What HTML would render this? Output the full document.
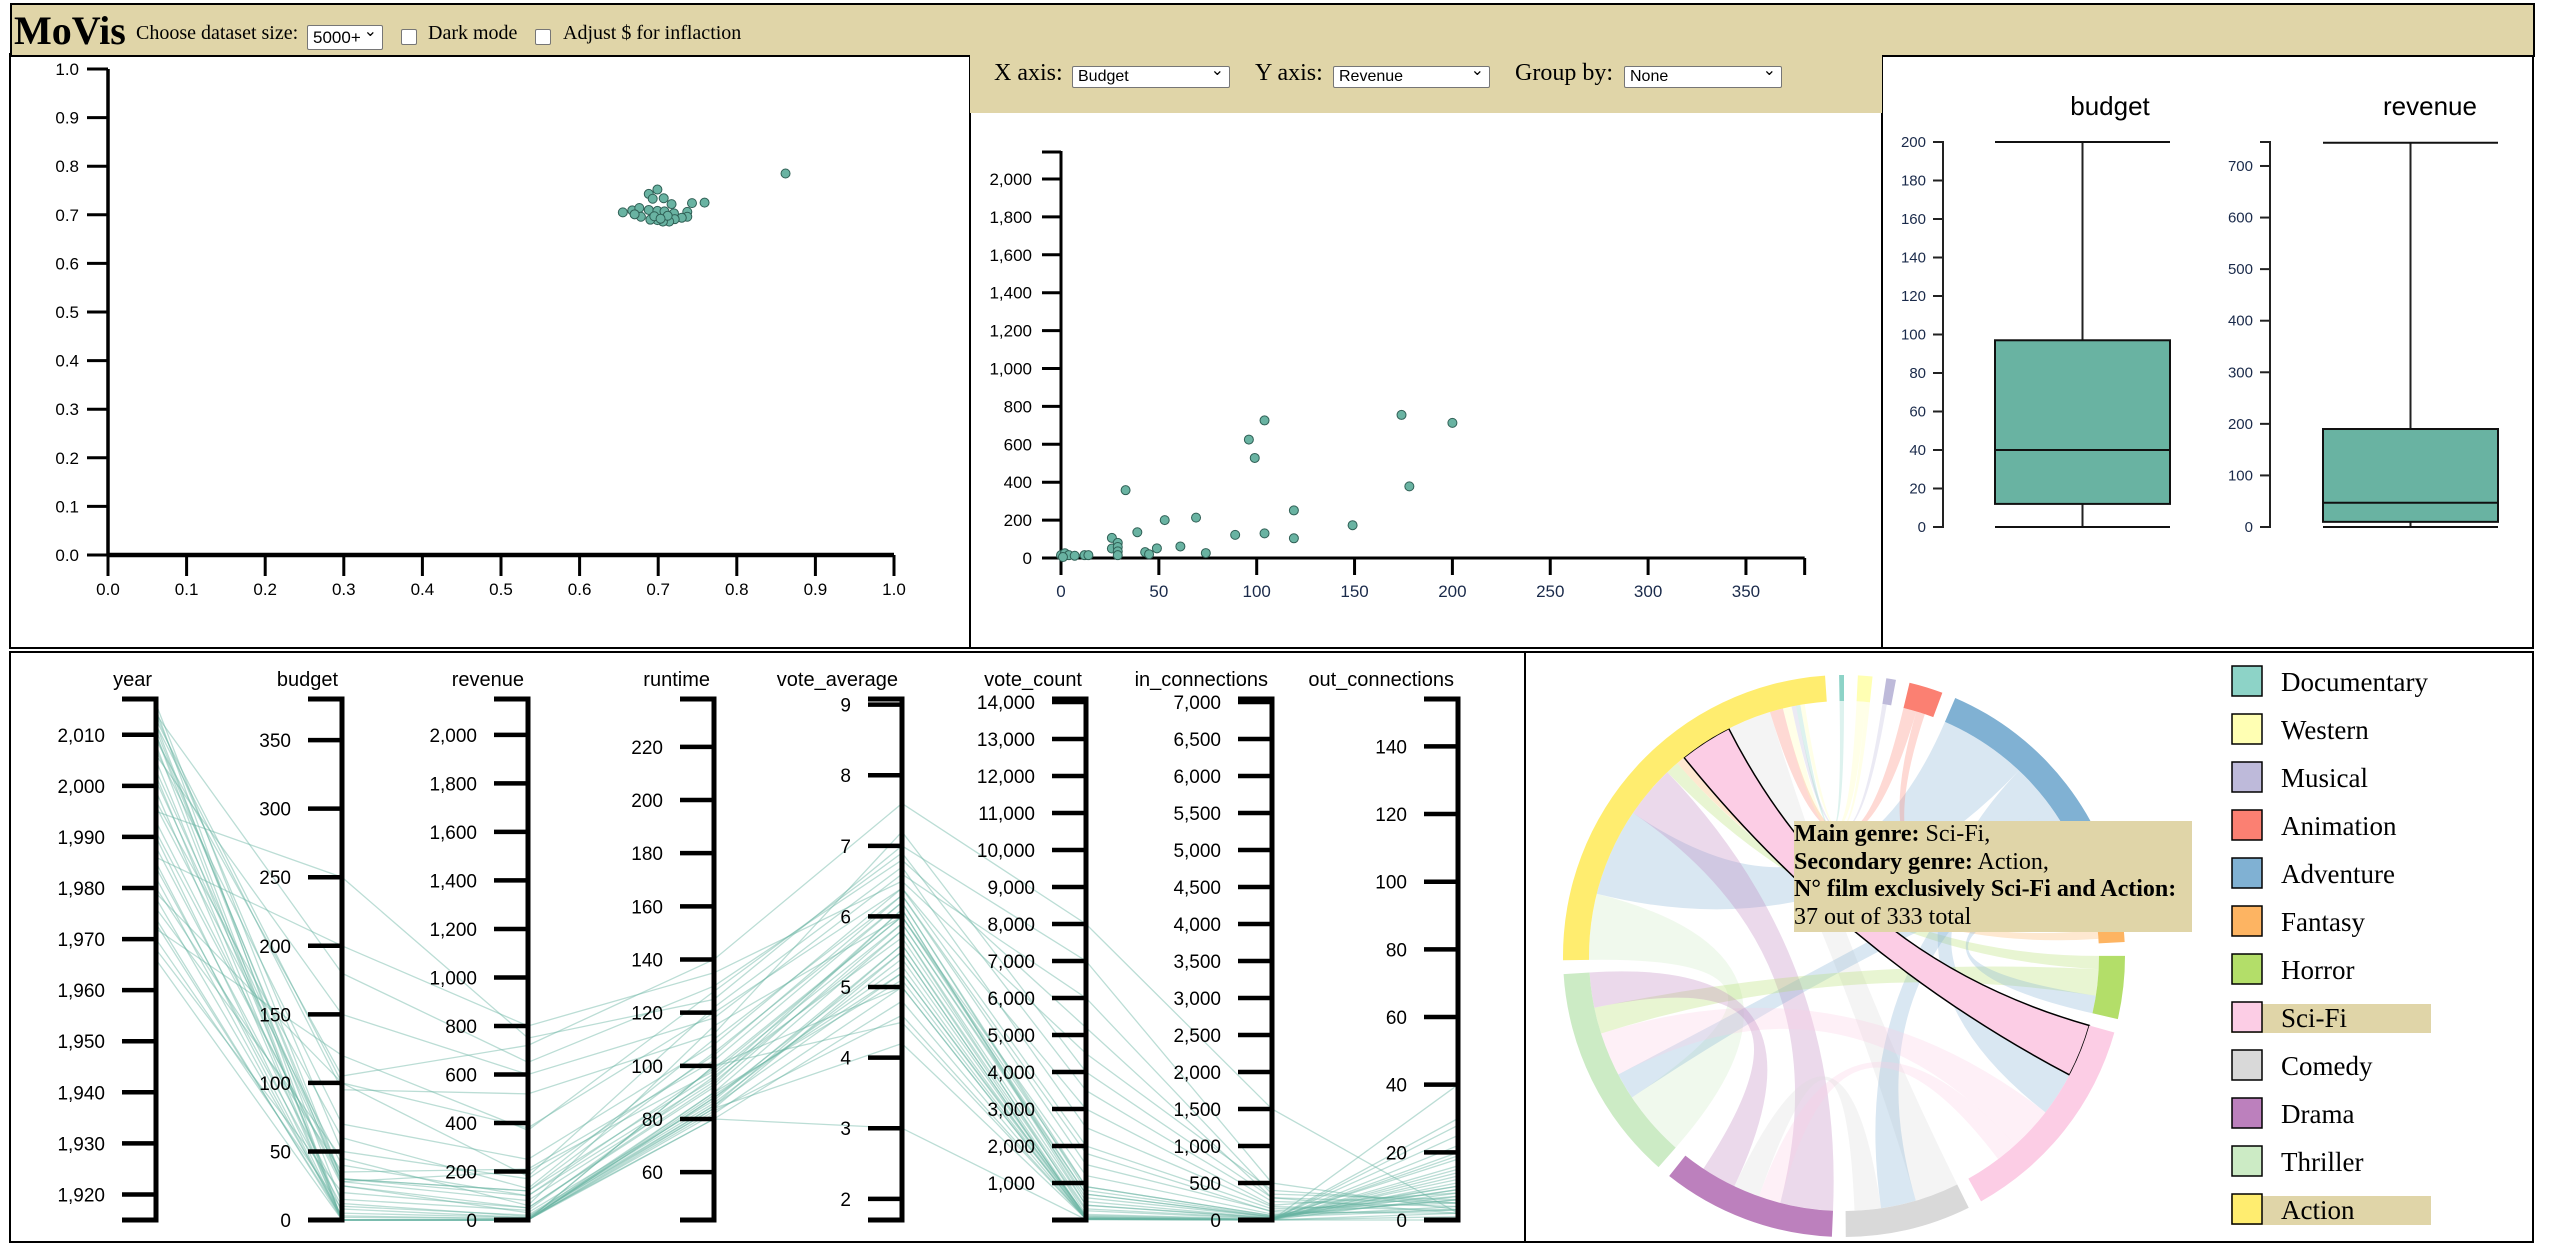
<!DOCTYPE html>
<html><head><meta charset="utf-8"><title>MoVis</title>
<style>
html,body{margin:0;padding:0;background:#fff;width:2560px;height:1255px;overflow:hidden;position:relative;font-family:"Liberation Serif",serif;}
#header{position:absolute;left:10px;top:3px;width:2521px;height:50px;background:#e0d5a8;border:2px solid #000;}
#title{position:absolute;left:2px;top:2px;font-size:40px;font-weight:bold;color:#000;}
.lbl{position:absolute;font-size:20px;color:#000;white-space:nowrap;}
.sel{position:absolute;background:#fff;border:1px solid #767676;border-radius:2px;font-family:"Liberation Sans",sans-serif;color:#000;box-sizing:border-box;padding-left:5px;}
.sel:after{content:"\2304";position:absolute;right:5px;top:-6px;font-size:16px;}
.cb{position:absolute;width:14px;height:14px;border:1px solid #767676;border-radius:2px;background:#fff;}
#ctrlbar{position:absolute;left:970px;top:55px;width:912px;height:58px;background:#e0d5a8;}
.tl{position:absolute;font-size:22px;color:#000;white-space:nowrap;}
#tooltip{position:absolute;left:1794px;top:821px;width:398px;height:111px;background:#e0d5a8;font-size:24px;line-height:27.5px;color:#000;}
svg{position:absolute;left:0;top:0;}
</style></head>
<body>
<svg id="chart" width="2560" height="1255" xmlns="http://www.w3.org/2000/svg"></svg>

<div id="header">
  <div id="title">MoVis</div>
  <div class="lbl" style="left:124px;top:17px;">Choose dataset size:</div>
  <div class="sel" style="left:295px;top:20px;width:76px;height:25px;font-size:17px;line-height:23px;">5000+</div>
  <div class="cb" style="left:389px;top:24px;"></div>
  <div class="lbl" style="left:416px;top:17px;">Dark mode</div>
  <div class="cb" style="left:523px;top:24px;"></div>
  <div class="lbl" style="left:551px;top:17px;">Adjust $ for inflaction</div>
</div>

<div id="ctrlbar">
  <div class="lbl" style="left:24px;top:5px;font-size:24px;">X axis:</div>
  <div class="sel" style="left:102px;top:11px;width:158px;height:22px;font-size:16px;line-height:20px;">Budget</div>
  <div class="lbl" style="left:285px;top:5px;font-size:24px;">Y axis:</div>
  <div class="sel" style="left:363px;top:11px;width:157px;height:22px;font-size:16px;line-height:20px;">Revenue</div>
  <div class="lbl" style="left:545px;top:5px;font-size:24px;">Group by:</div>
  <div class="sel" style="left:654px;top:11px;width:158px;height:22px;font-size:16px;line-height:20px;">None</div>
</div>

<div id="tooltip">
<b>Main genre:</b> Sci-Fi,<br><b>Secondary genre:</b> Action,<br><b>N° film exclusively Sci-Fi and Action:</b><br>37 out of 333 total
</div>

<script>
// ---------- DATA ----------
const s1X = [0.862,0.655,0.759,0.743,0.688,0.699,0.693,0.707,0.717,0.667,0.676,0.688,0.699,0.708,0.720,0.737,0.737,0.730,0.721,0.714,0.706,0.699,0.690,0.678,0.670,0.695,0.712,0.703];
const s1Y = [0.785,0.705,0.725,0.724,0.743,0.752,0.733,0.734,0.722,0.709,0.714,0.710,0.708,0.707,0.703,0.706,0.696,0.694,0.691,0.686,0.686,0.689,0.690,0.696,0.701,0.697,0.698,0.692];
const s1Ticks = [0,0.1,0.2,0.3,0.4,0.5,0.6,0.7,0.8,0.9,1.0];

const s2Budget = [33,96,104,99,174,200,178,119,119,149,104,89,69,53,61,74,49,39,43,45,26,26,29,29,29,29,0,2,4,7,12,14,1];
const s2Revenue = [358,625,726,528,755,713,378,251,104,173,130,122,213,200,61,26,51,136,31,20,106,50,80,58,35,15,15,25,15,12,15,15,5];
const s2XTicks = [0,50,100,150,200,250,300,350];
const s2YTicks = [0,200,400,600,800,1000,1200,1400,1600,1800,2000];

const boxBudget = {min:0,q1:12,median:40,q3:97,max:200};
const boxRevenue = {min:0,q1:10,median:47,q3:190,max:745};
const boxBudgetTicks = [0,20,40,60,80,100,120,140,160,180,200];
const boxRevenueTicks = [0,100,200,300,400,500,600,700];

const pcDims = ["year","budget","revenue","runtime","vote_average","vote_count","in_connections","out_connections"];
const pcYear = [2016,2015,2014,2013,2012,2011,2010,2009,2008,2006,2005,2003,2001,1999,1997,1995,1993,1990,1988,1986,1984,1982,1980,1978,1976,1974,1972,1970,1968,1966,2012,2007,2002,1996,1991,1985,1979,1973,2014,2010];
const pcBudget = [30,0,180,100,12,25,0,105,0,150,5,30,28,0,60,250,25,0,15,200,10,0,35,3,45,0,120,8,20,0,95,70,0,40,28,0,100,2,50,30];
const pcRevenue = [100,0,650,380,15,50,0,720,0,600,10,120,200,0,130,750,30,0,40,800,20,0,210,5,60,0,370,10,50,0,520,250,0,100,80,0,180,5,170,120];
const pcRuntime = [95,88,130,120,85,92,100,140,82,118,90,105,98,80,110,125,87,84,96,135,86,90,102,80,115,88,128,84,93,100,112,108,83,99,94,89,122,85,104,97];
const pcVoteAvg = [6.1,5.5,6.8,6.4,5.2,5.9,4.5,7.6,5.0,6.6,5.8,6.2,6.0,3.0,6.3,7.0,5.6,4.2,5.7,6.5,5.4,5.1,6.2,4.8,6.0,5.3,6.9,5.5,6.1,5.0,7.2,6.4,4.6,6.0,5.8,5.2,6.7,5.6,6.3,5.9];
const pcVoteCount = [400,50,5200,3000,120,600,30,8000,40,6000,150,900,700,10,1500,7000,250,30,300,4500,90,20,800,15,1200,40,3500,60,500,20,4000,2000,25,900,400,50,2500,80,1800,700];
const pcInConn = [20,2,300,200,5,40,1,1500,2,350,10,60,45,0,120,500,15,1,20,400,5,1,50,0,80,2,250,3,25,1,300,150,1,60,30,2,180,3,110,40];
const pcOutConn = [12,30,5,8,20,3,40,2,15,6,25,10,4,0,7,3,18,22,9,5,14,2,6,28,3,11,4,16,8,1,2,5,13,6,10,19,3,7,2,9];
const pcDomains = [[1915,2017],[0,380],[0,2148],[42,238],[1.7,9.08],[0,14080],[0,7040],[0,154]];
const pcTicks = [
 [1920,1930,1940,1950,1960,1970,1980,1990,2000,2010],
 [0,50,100,150,200,250,300,350],
 [0,200,400,600,800,1000,1200,1400,1600,1800,2000],
 [60,80,100,120,140,160,180,200,220],
 [2,3,4,5,6,7,8,9],
 [1000,2000,3000,4000,5000,6000,7000,8000,9000,10000,11000,12000,13000,14000],
 [0,500,1000,1500,2000,2500,3000,3500,4000,4500,5000,5500,6000,6500,7000],
 [0,20,40,60,80,100,120,140]];

const genres = ["Documentary","Western","Musical","Animation","Adventure","Fantasy","Horror","Sci-Fi","Comedy","Drama","Thriller","Action"];
const genreColors = ["#8dd3c7","#ffffb3","#bebada","#fb8072","#80b1d3","#fdb462","#b3de69","#fccde5","#d9d9d9","#bc80bd","#ccebc5","#ffed6f"];
const genreSizes = [1,3,2,7,58,3,13,45,26,36,45,87];
const chordSrc = [11,11,11,11,11,7,11,11,11,11,4,4,4,7,7,6,8,9,3,0,1,6];
const chordTgt = [10,4,9,6,5,11,8,3,1,2,7,8,10,10,9,10,9,10,4,11,11,4];
const chordVal = [15,20,12,3,2,12,10,3,2,1,10,8,6,10,5,6,6,8,2,1,1,4];
const highlightChord = 5;
const legendHighlight = [7,11];

// ---------- HELPERS ----------
const NS="http://www.w3.org/2000/svg";
const svg=document.getElementById('chart');
function mk(tag,attrs,parent){const e=document.createElementNS(NS,tag);for(const k in attrs)e.setAttribute(k,attrs[k]);(parent||svg).appendChild(e);return e;}
function fmt(v){return v.toLocaleString('en-US');}
let el;

// ---------- PANEL FRAMES ----------
const frames=[[10,54,960,594],[970,54,912,594],[1882,54,651,594],[10,652,1515,590],[1525,652,1008,590]];
frames.forEach(f=>{
  el=mk('rect',{x:f[0],y:f[1],width:f[2],height:f[3],fill:'none',stroke:'#000','stroke-width':2});
  
  
});
el=mk('line',{x1:10,x2:2533,y1:648,y2:648,stroke:'#000','stroke-width':1.5});



// ---------- SCATTER 1 ----------
const s1x=v=>108+v*786, s1y=v=>555-v*486;
const g1=mk('g',{});


el=mk('line',{x1:108,x2:108,y1:s1y(1),y2:s1y(0),stroke:'#000','stroke-width':3.5},g1);


el=mk('line',{x1:s1x(0),x2:s1x(1),y1:555,y2:555,stroke:'#000','stroke-width':4.5},g1);


s1Ticks.forEach(t=>{
  el=mk('line',{x1:87,x2:108,y1:s1y(t),y2:s1y(t),stroke:'#000','stroke-width':3},g1);
  
  
  el=mk('text',{x:79,y:s1y(t)+6,'text-anchor':'end','font-size':17,'font-family':'Liberation Sans, sans-serif',fill:'#000'},g1);
  el.textContent=t.toFixed(1);
  
  
  el=mk('line',{x1:s1x(t),x2:s1x(t),y1:555,y2:576,stroke:'#000','stroke-width':3},g1);
  
  
  el=mk('text',{x:s1x(t),y:595,'text-anchor':'middle','font-size':17,'font-family':'Liberation Sans, sans-serif',fill:'#000'},g1);
  el.textContent=t.toFixed(1);
  
  
});
s1X.forEach((v,i)=>{
  el=mk('circle',{cx:s1x(v),cy:s1y(s1Y[i]),r:4.5,fill:'#69b3a2',stroke:'#2f5f55','stroke-width':1},g1);
  
  
});

// ---------- SCATTER 2 ----------
const s2x=v=>1061+v*1.957, s2y=v=>558-v*0.1895;
const g2=mk('g',{});


el=mk('line',{x1:1061,x2:1061,y1:151,y2:558,stroke:'#000','stroke-width':3},g2);


el=mk('line',{x1:1042,x2:1061,y1:152,y2:152,stroke:'#000','stroke-width':3},g2);


el=mk('line',{x1:1061,x2:s2x(380),y1:558,y2:558,stroke:'#000','stroke-width':3},g2);


el=mk('line',{x1:s2x(380),x2:s2x(380),y1:558,y2:575,stroke:'#000','stroke-width':3},g2);


s2YTicks.forEach(t=>{
  el=mk('line',{x1:1042,x2:1061,y1:s2y(t),y2:s2y(t),stroke:'#000','stroke-width':3},g2);
  
  
  el=mk('text',{x:1032,y:s2y(t)+6,'text-anchor':'end','font-size':17,'font-family':'Liberation Sans, sans-serif',fill:'#000'},g2);
  el.textContent=fmt(t);
  
  
});
s2XTicks.forEach(t=>{
  el=mk('line',{x1:s2x(t),x2:s2x(t),y1:558,y2:575,stroke:'#000','stroke-width':3},g2);
  
  
  el=mk('text',{x:s2x(t),y:597,'text-anchor':'middle','font-size':17,'font-family':'Liberation Sans, sans-serif',fill:'#1a2a4a'},g2);
  el.textContent=fmt(t);
  
  
});
s2Budget.forEach((v,i)=>{
  el=mk('circle',{cx:s2x(v),cy:s2y(s2Revenue[i]),r:4.5,fill:'#69b3a2',stroke:'#2f5f55','stroke-width':1},g2);
  
  
});

// ---------- BOX PLOTS ----------
function boxPlot(name,stats,ticks,axisX,yTop,yBot,vmax,x0,x1,titleX){
  const y=v=>yBot-(v/vmax)*(yBot-yTop);
  const g=mk('g',{});
  
  
  el=mk('text',{x:titleX,y:115,'text-anchor':'middle','font-size':26,'font-family':'Liberation Sans, sans-serif',fill:'#000'},g);
  el.textContent=name;
  
  
  el=mk('path',{d:`M${axisX-10},${yTop}H${axisX}V${yBot}H${axisX-10}`,fill:'none',stroke:'#222','stroke-width':2},g);
  
  
  ticks.forEach(t=>{
    el=mk('line',{x1:axisX-10,x2:axisX,y1:y(t),y2:y(t),stroke:'#222','stroke-width':2},g);
    
    
    el=mk('text',{x:axisX-17,y:y(t)+5,'text-anchor':'end','font-size':15,'font-family':'Liberation Sans, sans-serif',fill:'#1a2a4a'},g);
    el.textContent=fmt(t);
    
    
  });
  const cx=(x0+x1)/2;
  el=mk('line',{x1:cx,x2:cx,y1:y(stats.min),y2:y(stats.max),stroke:'#222','stroke-width':2},g);
  
  
  el=mk('rect',{x:x0,y:y(stats.q3),width:x1-x0,height:y(stats.q1)-y(stats.q3),fill:'#69b3a2',stroke:'#111','stroke-width':2},g);
  
  
  [stats.min,stats.median,stats.max].forEach(v=>{
    el=mk('line',{x1:x0,x2:x1,y1:y(v),y2:y(v),stroke:'#111','stroke-width':2},g);
    
    
  });
}
boxPlot('budget',boxBudget,boxBudgetTicks,1943,142,527,200,1995,2170,2110);
boxPlot('revenue',boxRevenue,boxRevenueTicks,2270,142,527,746.5,2323,2498,2430);

// ---------- PARALLEL COORDINATES ----------
const pcX=[156,342,528,714,902,1086,1272,1458], pcTop=699, pcBot=1220;
const pcData=[pcYear,pcBudget,pcRevenue,pcRuntime,pcVoteAvg,pcVoteCount,pcInConn,pcOutConn];
const pcY=(d,v)=>pcBot-(v-pcDomains[d][0])/(pcDomains[d][1]-pcDomains[d][0])*(pcBot-pcTop);
const gp=mk('g',{});


const gl=mk('g',{},gp);
pcYear.forEach((_,i)=>{
  const pts=pcData.map((arr,d)=>pcX[d]+','+pcY(d,arr[i]));
  el=mk('polyline',{points:pts.join(' '),fill:'none',stroke:'#69b3a2','stroke-opacity':0.45,'stroke-width':1.3},gl);
  
  
});
pcDims.forEach((dim,d)=>{
  const x=pcX[d];
  el=mk('text',{x:x-4,y:686,'text-anchor':'end','font-size':20,'font-family':'Liberation Sans, sans-serif',fill:'#000'},gp);
  el.textContent=dim;
  
  
  el=mk('path',{d:`M${x-34},${pcTop}H${x}V${pcBot}H${x-34}`,fill:'none',stroke:'#000','stroke-width':5},gp);
  
  
  pcTicks[d].forEach(t=>{
    const y=pcY(d,t);
    el=mk('line',{x1:x-34,x2:x,y1:y,y2:y,stroke:'#000','stroke-width':4.5},gp);
    
    
    el=mk('text',{x:x-51,y:y+7,'text-anchor':'end','font-size':19,'font-family':'Liberation Sans, sans-serif',fill:'#000'},gp);
    el.textContent=fmt(t);
    
    
  });
});

// ---------- CHORD DIAGRAM ----------
const cx=1844, cy=956, rIn=255, rOut=281, pad=2.83, startA=-1;
const gc=mk('g',{});


const pt=(a,r)=>{const t=a*Math.PI/180;return [cx+r*Math.sin(t),cy-r*Math.cos(t)];};
const gStart=[];let acc=startA;
genreSizes.forEach((s,i)=>{gStart.push(acc);acc+=s+pad;});
const cursor=gStart.slice();
const ribbons=[];
chordVal.forEach((v,i)=>{
  const s=chordSrc[i],t=chordTgt[i];
  const sa=cursor[s];cursor[s]+=v;
  const ta=cursor[t];cursor[t]+=v;
  ribbons.push([sa,sa+v,ta,ta+v,Math.min(s,t),s]);
});
function ribbonPath(r){
  const [a0,a1,b0,b1]=r;
  const p0=pt(a0,rIn),p1=pt(a1,rIn),q0=pt(b0,rIn),q1=pt(b1,rIn);
  return `M${p0}A${rIn},${rIn} 0 0 1 ${p1}Q${cx},${cy} ${q0}A${rIn},${rIn} 0 0 1 ${q1}Q${cx},${cy} ${p0}Z`;
}
ribbons.forEach((r,i)=>{
  if(i===highlightChord)return;
  el=mk('path',{d:ribbonPath(r),fill:genreColors[r[4]],'fill-opacity':0.3},gc);
  
  
});
el=mk('path',{d:ribbonPath(ribbons[highlightChord]),fill:genreColors[ribbons[highlightChord][5]],stroke:'#000','stroke-width':1.5},gc);


genreSizes.forEach((s,i)=>{
  const a0=gStart[i],a1=a0+s,large=s>180?1:0;
  const o0=pt(a0,rOut),o1=pt(a1,rOut),i1=pt(a1,rIn),i0=pt(a0,rIn);
  el=mk('path',{d:`M${o0}A${rOut},${rOut} 0 ${large} 1 ${o1}L${i1}A${rIn},${rIn} 0 ${large} 0 ${i0}Z`,fill:genreColors[i]},gc);
  
  
});
// legend
genres.forEach((g,i)=>{
  const y=666+i*48;
  if(legendHighlight.includes(i)){
    el=mk('rect',{x:2231,y:y+2,width:200,height:29,fill:'#e0d5a8'},gc);
    
    
  }
  el=mk('rect',{x:2232,y:y,width:30,height:30,fill:genreColors[i],stroke:'#000','stroke-width':1.5},gc);
  
  
  el=mk('text',{x:2281,y:y+25,'font-size':27,'font-family':'Liberation Serif, serif',fill:'#000'},gc);
  el.textContent=g;
  
  
});
</script>
</body></html>
